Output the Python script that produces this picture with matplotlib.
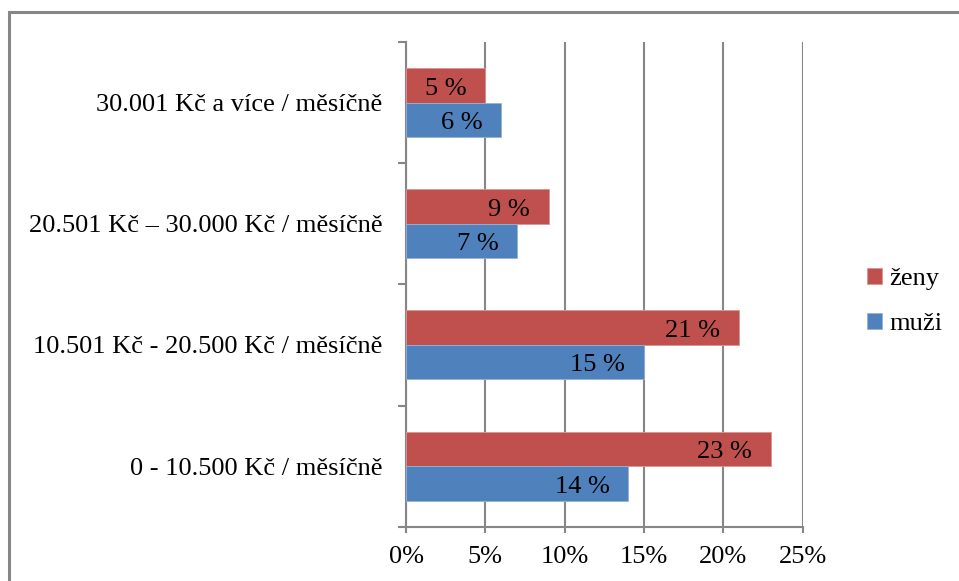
import matplotlib
matplotlib.use("Agg")
import matplotlib.pyplot as plt
from matplotlib.patches import Rectangle
import numpy as np

# income brackets, bottom to top
categories = ["0 - 10.500 Kč / měsíčně",
              "10.501 Kč - 20.500 Kč / měsíčně",
              "20.501 Kč – 30.000 Kč / měsíčně",
              "30.001 Kč a více / měsíčně"]
zeny = [23, 21, 9, 5]
muzi = [14, 15, 7, 6]
xticks = [0, 5, 10, 15, 20, 25]

RED = "#C0504D"
BLUE = "#4F81BD"
GRID = "#868686"

plt.rcParams["font.family"] = ["Liberation Serif", "DejaVu Serif"]
fs = 19

W, H = 959, 581
fig = plt.figure(figsize=(W / 100, H / 100), dpi=100)

# outer chart frame
fig.patches.append(Rectangle((8.5 / W, -0.1), 1.1, 1.1 - 12.5 / H,
                             transform=fig.transFigure, fill=False,
                             edgecolor=GRID, lw=2.2))

left, right, top, bottom = 406, 802.7, 42, 526.7
ax = fig.add_axes([left / W, 1 - bottom / H, (right - left) / W, (bottom - top) / H])

y = np.arange(len(categories))
h = 0.285
ax.barh(y + h / 2, zeny, height=h, color=RED, edgecolor="#D99694", lw=0.6, label="ženy", zorder=3)
ax.barh(y - h / 2, muzi, height=h, color=BLUE, edgecolor="#95B3D7", lw=0.6, label="muži", zorder=3)

for yi, v in zip(y + h / 2, zeny):
    ax.annotate(f"{v} %", (v, yi), xytext=(-13.5, -0.5), textcoords="offset points",
                ha="right", va="center_baseline", fontsize=fs, zorder=4)
for yi, v in zip(y - h / 2, muzi):
    ax.annotate(f"{v} %", (v, yi), xytext=(-13.5, -0.5), textcoords="offset points",
                ha="right", va="center_baseline", fontsize=fs, zorder=4)

ax.set_xlim(0, 25)
ax.set_ylim(-0.5, len(categories) - 0.5)
ax.set_xticks(xticks)
ax.set_xticklabels([f"{t}%" for t in xticks], fontsize=fs)
ax.grid(axis="x", color=GRID, lw=1.5, zorder=0)

# category ticks sit between groups, labels at group centres
ax.set_yticks(np.arange(-0.5, len(categories)), minor=False)
ax.set_yticklabels([])
ax.set_yticks(y, minor=True)
ax.set_yticklabels(categories, minor=True, fontsize=fs)
ax.tick_params(axis="y", which="major", length=6, width=1.5, color=GRID, direction="out")
ax.tick_params(axis="y", which="minor", length=0, pad=17)
ax.tick_params(axis="x", length=4, width=1.5, color=GRID, direction="out", pad=10)

for s in ["top", "right"]:
    ax.spines[s].set_visible(False)
for s in ["left", "bottom"]:
    ax.spines[s].set_color(GRID)
    ax.spines[s].set_linewidth(1.5)

handles, labels = ax.get_legend_handles_labels()
fig.legend(handles, labels, loc="center left", bbox_to_anchor=(867 / W, 1 - 301.5 / H),
           frameon=False, fontsize=fs, handlelength=0.55, handleheight=0.55,
           handletextpad=0.3, labelspacing=0.85, borderpad=0, borderaxespad=0)

fig.savefig("out.png", dpi=100)
